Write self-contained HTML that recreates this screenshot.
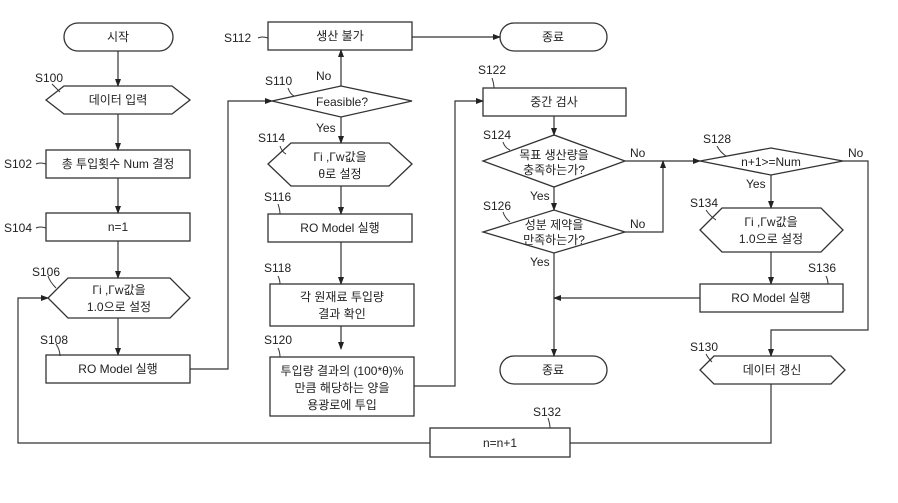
<!DOCTYPE html>
<html><head><meta charset="utf-8"><style>
body{margin:0;background:#fff}
text{font-family:"Liberation Sans","Noto Sans CJK KR",sans-serif;font-size:12px;fill:#222}
.c{text-anchor:middle}
</style></head><body>
<svg width="898" height="498" viewBox="0 0 898 498" xmlns="http://www.w3.org/2000/svg">
<defs><marker id="a" markerWidth="8" markerHeight="8" refX="7" refY="4" orient="auto" markerUnits="userSpaceOnUse"><path d="M0,1 L8,4 L0,7z" fill="#222"/></marker></defs>
<g fill="none" stroke="#333" stroke-width="1.3">
<rect x="64" y="23" width="109" height="28" rx="14"/>
<polygon points="46,100 64,86 172,86 190,100 172,114 64,114"/>
<rect x="46" y="150" width="144" height="28"/>
<rect x="46" y="213" width="144" height="28"/>
<polygon points="48,298 68,278 170,278 190,298 170,318 68,318"/>
<rect x="46" y="355" width="144" height="28"/>
<rect x="268" y="22" width="144" height="28"/>
<polygon points="272,101 341,86 412,101 341,117"/>
<rect x="500" y="23" width="107" height="28" rx="14"/>
<polygon points="268,164 291,143 389,143 412,164 389,186 291,186"/>
<rect x="268" y="214" width="144" height="28"/>
<rect x="270" y="284" width="144" height="42"/>
<rect x="270" y="357" width="144" height="59"/>
<rect x="483" y="88" width="143" height="28"/>
<polygon points="483,161 554,135 625,161 554,187"/>
<polygon points="483,232 554,210 625,232 554,253"/>
<rect x="500" y="356" width="107" height="28" rx="14"/>
<polygon points="700,161 771,148 843,161 771,175"/>
<polygon points="700,230 722,208 821,208 843,230 821,252 722,252"/>
<rect x="700" y="284" width="143" height="28"/>
<polygon points="700,370 714,356 831,356 845,370 831,384 714,384"/>
<rect x="430" y="428" width="140" height="29"/>
</g>
<g fill="none" stroke="#333" stroke-width="1.2">
<path d="M118,51V86" marker-end="url(#a)"/>
<path d="M118,114V150" marker-end="url(#a)"/>
<path d="M118,178V213" marker-end="url(#a)"/>
<path d="M118,241V278" marker-end="url(#a)"/>
<path d="M118,318V355" marker-end="url(#a)"/>
<path d="M190,369H228V101H272" marker-end="url(#a)"/>
<path d="M341,86V50" marker-end="url(#a)"/>
<path d="M412,37H500" marker-end="url(#a)"/>
<path d="M341,117V143" marker-end="url(#a)"/>
<path d="M341,186V214" marker-end="url(#a)"/>
<path d="M341,242V284" marker-end="url(#a)"/>
<path d="M341,326V349" marker-end="url(#a)"/>
<path d="M414,386H455V101H483" marker-end="url(#a)"/>
<path d="M554,116V135" marker-end="url(#a)"/>
<path d="M554,187V210" marker-end="url(#a)"/>
<path d="M554,253V356" marker-end="url(#a)"/>
<path d="M625,161H700" marker-end="url(#a)"/>
<path d="M625,232H663V161" marker-end="url(#a)"/>
<path d="M771,175V208" marker-end="url(#a)"/>
<path d="M771,252V284" marker-end="url(#a)"/>
<path d="M700,298H554" marker-end="url(#a)"/>
<path d="M843,161H868V330H771V356" marker-end="url(#a)"/>
<path d="M771,384V443H570"/>
<path d="M430,443H18V298H48" marker-end="url(#a)"/>
</g>
<g fill="none" stroke="#333" stroke-width="1">
<path d="M52,84Q56,88 60,92"/>
<path d="M36,164Q40,162 46,164"/>
<path d="M36,228Q40,226 46,228"/>
<path d="M258,38Q262,36 268,38"/>
<path d="M48,276Q50,282 56,288"/>
<path d="M56,344Q60,350 60,356"/>
<path d="M288,88Q290,94 294,96"/>
<path d="M280,146Q282,152 286,154"/>
<path d="M278,204Q280,210 280,214"/>
<path d="M278,276Q280,280 280,284"/>
<path d="M278,348Q280,352 280,357"/>
<path d="M492,78Q494,84 494,88"/>
<path d="M503,142Q505,148 510,150"/>
<path d="M503,212Q505,218 510,222"/>
<path d="M717,146Q720,152 726,156"/>
<path d="M706,210Q710,216 716,220"/>
<path d="M826,276Q828,280 828,284"/>
<path d="M706,354Q708,358 712,362"/>
<path d="M548,418Q550,424 550,428"/>
</g>
<g>
<text class="c" x="118" y="41">시작</text>
<text class="c" x="118" y="104">데이터 입력</text>
<text class="c" x="118" y="168">총 투입횟수 Num 결정</text>
<text class="c" x="118" y="231">n=1</text>
<text class="c" x="119" y="294">Γi ,Γw값을</text>
<text class="c" x="119" y="311">1.0으로 설정</text>
<text class="c" x="118" y="373">RO Model 실행</text>
<text class="c" x="340" y="40">생산 불가</text>
<text class="c" x="342" y="106">Feasible?</text>
<text class="c" x="553" y="41">종료</text>
<text class="c" x="340" y="161">Γi ,Γw값을</text>
<text class="c" x="340" y="178">θ로 설정</text>
<text class="c" x="340" y="232">RO Model 실행</text>
<text class="c" x="342" y="301">각 원재료 투입량</text>
<text class="c" x="342" y="318">결과 확인</text>
<text class="c" x="342" y="375">투입량 결과의 (100*θ)%</text>
<text class="c" x="342" y="392">만큼 해당하는 양을</text>
<text class="c" x="342" y="409">용광로에 투입</text>
<text class="c" x="554" y="106">중간 검사</text>
<text class="c" x="554" y="159">목표 생산량을</text>
<text class="c" x="554" y="174">충족하는가?</text>
<text class="c" x="554" y="229">성분 제약을</text>
<text class="c" x="554" y="244">만족하는가?</text>
<text class="c" x="553" y="374">종료</text>
<text class="c" x="771" y="166">n+1&gt;=Num</text>
<text class="c" x="771" y="226">Γi ,Γw값을</text>
<text class="c" x="771" y="243">1.0으로 설정</text>
<text class="c" x="771" y="302">RO Model 실행</text>
<text class="c" x="772" y="374">데이터 갱신</text>
<text class="c" x="500" y="447">n=n+1</text>
<text x="316" y="80">No</text><text x="316" y="132">Yes</text>
<text x="630" y="157">No</text><text x="630" y="228">No</text>
<text x="530" y="200">Yes</text><text x="530" y="266">Yes</text>
<text x="848" y="157">No</text><text x="746" y="188">Yes</text>
<text x="35" y="82">S100</text><text x="4" y="168">S102</text><text x="4" y="232">S104</text>
<text x="32" y="276">S106</text><text x="40" y="344">S108</text><text x="265" y="85">S110</text>
<text x="224" y="42">S112</text><text x="258" y="142">S114</text><text x="264" y="201">S116</text>
<text x="264" y="272">S118</text><text x="264" y="344">S120</text><text x="478" y="74">S122</text>
<text x="483" y="139">S124</text><text x="483" y="210">S126</text><text x="703" y="143">S128</text>
<text x="690" y="207">S134</text><text x="808" y="272">S136</text><text x="690" y="351">S130</text>
<text x="533" y="416">S132</text>
</g>
</svg>
</body></html>
